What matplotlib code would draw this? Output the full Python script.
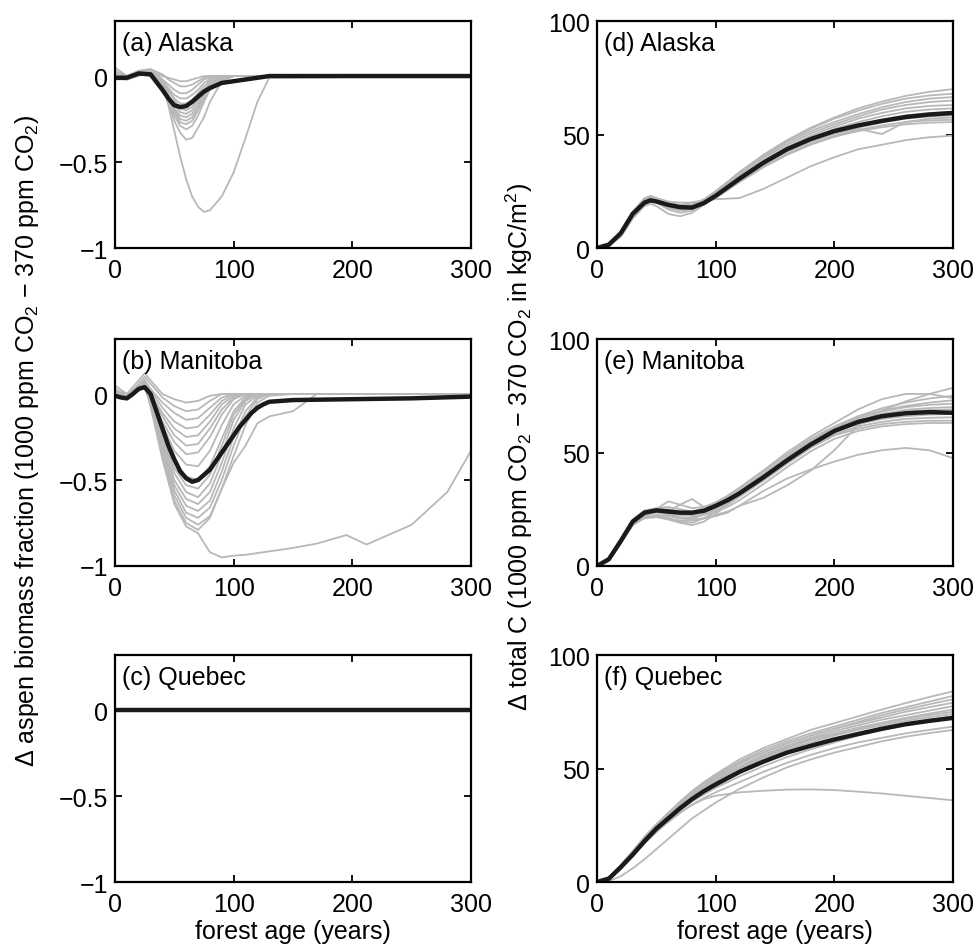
import matplotlib
matplotlib.use('Agg')
import matplotlib.pyplot as plt

plt.rcParams['font.family'] = ['Liberation Sans', 'DejaVu Sans']
plt.rcParams['mathtext.fontset'] = 'custom'
plt.rcParams['mathtext.rm'] = 'Liberation Sans'
plt.rcParams['mathtext.it'] = 'Liberation Sans:italic'

# ---- (a) Alaska, aspen biomass fraction ----
xa = [0, 10, 20, 30, 40, 45, 50, 55, 60, 65, 70, 75, 80, 90, 100, 110, 120, 130, 300]
mean_a = [-0.01, -0.01, 0.015, 0.01, -0.08, -0.13, -0.17, -0.18, -0.175, -0.15, -0.12, -0.09, -0.07, -0.04, -0.03, -0.02, -0.01, 0, 0]
gray_a = [
    [0, -0.02, 0.02, 0.03, 0.0, -0.01, -0.02, -0.03, -0.03, -0.02, -0.01, 0, 0, 0, 0, 0, 0, 0, 0],
    [0.03, 0.0, 0.03, 0.04, 0.01, -0.02, -0.04, -0.06, -0.06, -0.05, -0.03, -0.01, 0, 0, 0, 0, 0, 0, 0],
    [0.05, 0.0, 0.02, 0.02, -0.02, -0.05, -0.08, -0.1, -0.1, -0.08, -0.05, -0.02, -0.01, 0, 0, 0, 0, 0, 0],
    [0.0, -0.01, 0.01, 0.03, -0.03, -0.07, -0.11, -0.13, -0.13, -0.11, -0.08, -0.04, -0.02, 0, 0, 0, 0, 0, 0],
    [-0.02, -0.02, 0.0, 0.02, -0.04, -0.09, -0.13, -0.16, -0.16, -0.14, -0.1, -0.06, -0.03, -0.01, 0, 0, 0, 0, 0],
    [0.0, 0.0, 0.03, 0.04, -0.02, -0.08, -0.14, -0.19, -0.2, -0.18, -0.13, -0.08, -0.04, -0.01, 0, 0, 0, 0, 0],
    [0.02, -0.01, 0.02, 0.01, -0.05, -0.11, -0.17, -0.21, -0.22, -0.2, -0.15, -0.09, -0.05, -0.01, 0, 0, 0, 0, 0],
    [-0.01, -0.02, 0.01, 0.0, -0.06, -0.12, -0.19, -0.23, -0.24, -0.22, -0.17, -0.11, -0.06, -0.02, 0, 0, 0, 0, 0],
    [0.0, -0.01, 0.02, 0.02, -0.05, -0.13, -0.2, -0.25, -0.26, -0.24, -0.19, -0.12, -0.07, -0.02, 0, 0, 0, 0, 0],
    [0.01, 0.0, 0.03, 0.03, -0.04, -0.13, -0.21, -0.27, -0.28, -0.26, -0.2, -0.13, -0.07, -0.02, 0, 0, 0, 0, 0],
    [0.0, -0.02, 0.01, 0.01, -0.07, -0.15, -0.23, -0.29, -0.31, -0.29, -0.23, -0.15, -0.08, -0.02, 0, 0, 0, 0, 0],
    [-0.01, -0.01, 0.02, 0.02, -0.06, -0.16, -0.26, -0.33, -0.37, -0.36, -0.3, -0.24, -0.15, -0.03, 0, 0, 0, 0, 0],
    [0.0, -0.01, 0.01, 0.02, -0.04, -0.17, -0.32, -0.47, -0.6, -0.7, -0.76, -0.79, -0.78, -0.7, -0.56, -0.36, -0.15, -0.01, 0],
]

# ---- (b) Manitoba, aspen biomass fraction ----
xb = [0, 10, 20, 25, 30, 40, 50, 60, 70, 80, 90, 100, 110, 120, 130, 150, 170, 195, 212, 250, 280, 300]
xb_mean = [0, 5, 10, 15, 20, 25, 30, 35, 40, 45, 50, 55, 60, 65, 70, 75, 80, 85, 90, 95, 100, 105, 110, 115, 120, 125, 130, 150, 200, 250, 300]
mean_b = [-0.01, -0.02, -0.025, 0.0, 0.03, 0.04, 0.0, -0.1, -0.2, -0.3, -0.38, -0.45, -0.49, -0.51, -0.5, -0.47, -0.44, -0.39, -0.34, -0.29, -0.24, -0.19, -0.15, -0.11, -0.08, -0.06, -0.045, -0.035, -0.03, -0.025, -0.015]
gray_b = [
    [0.02, 0.0, 0.08, 0.12, 0.08, 0.0, -0.03, -0.05, -0.04, -0.01, 0, 0, 0, 0, 0, 0, 0, 0, 0, 0, 0, 0],
    [0.0, -0.02, 0.06, 0.1, 0.06, -0.02, -0.07, -0.1, -0.09, -0.04, 0, 0, 0, 0, 0, 0, 0, 0, 0, 0, 0, 0],
    [0.05, 0.0, 0.05, 0.08, 0.03, -0.05, -0.11, -0.15, -0.14, -0.08, -0.02, 0, 0, 0, 0, 0, 0, 0, 0, 0, 0, 0],
    [0.0, -0.02, 0.04, 0.08, 0.02, -0.08, -0.16, -0.2, -0.19, -0.12, -0.04, 0, 0, 0, 0, 0, 0, 0, 0, 0, 0, 0],
    [0.03, -0.01, 0.05, 0.07, 0.0, -0.11, -0.2, -0.25, -0.24, -0.16, -0.06, -0.01, 0, 0, 0, 0, 0, 0, 0, 0, 0, 0],
    [0.0, -0.03, 0.04, 0.06, 0.0, -0.13, -0.24, -0.3, -0.29, -0.2, -0.09, -0.02, 0, 0, 0, 0, 0, 0, 0, 0, 0, 0],
    [0.02, -0.02, 0.03, 0.05, -0.02, -0.16, -0.28, -0.35, -0.34, -0.25, -0.12, -0.03, 0, 0, 0, 0, 0, 0, 0, 0, 0, 0],
    [0.0, -0.02, 0.05, 0.07, -0.01, -0.18, -0.33, -0.41, -0.42, -0.33, -0.18, -0.06, -0.01, 0, 0, 0, 0, 0, 0, 0, 0, 0],
    [0.01, -0.03, 0.04, 0.06, -0.03, -0.22, -0.39, -0.48, -0.5, -0.42, -0.26, -0.1, -0.02, 0, 0, 0, 0, 0, 0, 0, 0, 0],
    [-0.01, -0.02, 0.03, 0.05, -0.04, -0.25, -0.43, -0.53, -0.55, -0.47, -0.3, -0.12, -0.03, 0, 0, 0, 0, 0, 0, 0, 0, 0],
    [0.0, -0.03, 0.05, 0.08, -0.02, -0.26, -0.46, -0.57, -0.6, -0.52, -0.35, -0.15, -0.04, 0, 0, 0, 0, 0, 0, 0, 0, 0],
    [0.02, -0.02, 0.04, 0.06, -0.04, -0.28, -0.5, -0.61, -0.64, -0.57, -0.4, -0.2, -0.06, -0.01, 0, 0, 0, 0, 0, 0, 0, 0],
    [0.0, -0.03, 0.02, 0.04, -0.06, -0.3, -0.53, -0.65, -0.68, -0.62, -0.45, -0.25, -0.1, -0.02, 0, 0, 0, 0, 0, 0, 0, 0],
    [0.01, -0.02, 0.03, 0.05, -0.05, -0.32, -0.56, -0.69, -0.72, -0.66, -0.5, -0.3, -0.13, -0.03, 0, 0, 0, 0, 0, 0, 0, 0],
    [0.0, -0.03, 0.04, 0.06, -0.06, -0.34, -0.59, -0.72, -0.76, -0.71, -0.55, -0.36, -0.18, -0.05, -0.01, 0, 0, 0, 0, 0, 0, 0],
    [0.0, -0.02, 0.03, 0.05, -0.07, -0.36, -0.62, -0.75, -0.79, -0.72, -0.55, -0.4, -0.3, -0.17, -0.13, -0.1, 0, 0, 0, 0, 0, 0],
    [0.0, -0.02, 0.03, 0.05, -0.07, -0.38, -0.64, -0.77, -0.81, -0.92, -0.95, -0.94, -0.935, -0.925, -0.915, -0.895, -0.87, -0.82, -0.875, -0.76, -0.57, -0.33],
]

# ---- (c) Quebec, aspen biomass fraction ----
xc = [0, 300]
mean_c = [0, 0]

# ---- (d) Alaska, total C ----
xd = [0, 10, 20, 30, 40, 45, 50, 60, 70, 80, 90, 100, 120, 140, 160, 180, 200, 220, 240, 260, 280, 300]
mean_d = [0, 1.5, 6.5, 15, 20, 21, 20.5, 19, 18, 17.8, 19.8, 23, 30.5, 37.5, 43.5, 48, 51.5, 54, 56, 57.7, 58.8, 59.5]
gray_d = [
    [0, 1.2, 6, 15, 21, 22, 21.5, 19.5, 18.5, 18.5, 21, 25, 33.5, 41, 47.5, 53, 57.5, 61.5, 64.5, 67, 68.8, 70],
    [0, 1.5, 7, 16, 22, 23, 22, 20, 19, 19, 21.5, 25, 33, 40.5, 47, 52.5, 57, 60.5, 63.5, 65.8, 67.2, 68],
    [0, 1, 5.5, 14, 20, 21, 20.5, 18, 17, 17.5, 20.5, 24.5, 32.5, 40, 46.5, 51.5, 55.5, 59, 62, 64.3, 65.8, 66.5],
    [0, 1.3, 6.5, 15, 21, 22, 21, 18.5, 17, 17.5, 20, 24, 32, 39.5, 45.5, 50.5, 54.5, 58, 61, 63, 64.3, 65],
    [0, 1.1, 5, 13, 19, 20.5, 20, 17, 15.5, 16.5, 20, 24, 31.5, 38.5, 44.5, 49.5, 53.5, 57, 59.5, 61.5, 62.6, 63],
    [0, 1.4, 6.5, 15.5, 21.5, 22.5, 22, 20.5, 20, 20, 21, 23.5, 31, 38, 44, 48.5, 52.5, 55.5, 58, 60, 61, 61.5],
    [0, 1, 5, 13, 18.5, 19.5, 18.5, 15, 14, 15.5, 19, 23, 30.5, 37.5, 43, 47.5, 51, 54, 56.5, 58.5, 59.5, 60],
    [0, 1.3, 6, 14.5, 20.5, 21.5, 21, 19, 18, 18, 20, 23, 30, 37, 42.5, 47, 50.5, 53, 55.3, 57, 58, 58.5],
    [0, 1.2, 6, 14.5, 20.5, 21.5, 21, 19, 18.5, 18.5, 20.5, 23.5, 30.5, 37, 42.5, 47, 50.5, 52.5, 50.2, 55.5, 57, 57.5],
    [0, 1, 5.5, 14, 20, 21, 20.5, 17.5, 16.5, 17, 19.5, 22.5, 29.5, 36, 41.5, 46, 49.5, 52, 54, 55.5, 56.2, 56.5],
    [0, 1.2, 6, 14.5, 20, 21, 20.5, 18, 17, 17.5, 19.5, 22, 29, 35.5, 41, 45.5, 49, 51.5, 53.2, 54.5, 55.2, 55.5],
    [0, 1.2, 6, 14, 20, 21, 20.5, 19, 19, 20, 21, 21.5, 22, 26, 31, 36, 40, 43.5, 45.5, 47.5, 48.8, 49.5],
]

# ---- (e) Manitoba, total C ----
xe = [0, 10, 20, 30, 40, 50, 60, 70, 80, 90, 100, 110, 120, 140, 160, 180, 200, 220, 240, 260, 280, 300]
mean_e = [0, 3, 11, 19.5, 23.5, 24.5, 24, 23.5, 23.5, 24.3, 26.5, 29, 32, 39, 46.5, 53.5, 59.5, 63.5, 66, 67.3, 67.8, 67.5]
gray_e = [
    [0, 2.5, 10, 18, 22, 22.5, 22, 21, 20.5, 21, 22.5, 24, 26.5, 30, 35.5, 42, 51, 62, 68.5, 72.5, 75.8, 78.5],
    [0, 3.5, 12, 20.5, 24.5, 25.5, 26, 25, 24, 25.5, 28, 31, 34.5, 42, 50, 57, 63, 69, 73.5, 75.8, 75.8, 74],
    [0, 3, 11.5, 19.5, 23.5, 25, 28.5, 27, 25.5, 26, 28, 30.5, 34, 41.5, 49, 56, 61.5, 66, 69.5, 72, 73.8, 75],
    [0, 2.5, 10.5, 19, 23, 24, 24, 27, 29.5, 26, 27, 29.5, 32.5, 40, 48, 55, 61, 65.5, 68.5, 70.5, 72, 73],
    [0, 3, 11, 19.5, 23.5, 24.5, 24, 23, 22.5, 24, 26.5, 29.5, 33, 40.5, 48, 55, 61, 65, 68, 70, 71, 71.5],
    [0, 3.2, 11.5, 20, 24, 25, 25, 24, 23, 24, 26, 28.5, 31.5, 38.5, 46, 53, 59.5, 64, 67, 68.8, 69.6, 70],
    [0, 2.8, 10.5, 18.5, 22.5, 23.5, 22.5, 21, 21, 23, 25.5, 28.5, 32, 39.5, 47, 54, 60, 64, 66.5, 68, 68.7, 69],
    [0, 3, 11, 19, 23, 24, 23, 21.5, 21, 22.5, 25, 28, 31.5, 38.5, 46, 53, 59, 62.5, 64.8, 66, 66.7, 67],
    [0, 2.5, 10, 18, 21.5, 22, 21, 19.5, 19, 21, 24, 27.5, 31, 38, 45.5, 52.5, 58, 61.5, 63.5, 64.8, 65.3, 65.5],
    [0, 2.7, 10.5, 18, 21, 21.5, 20.5, 19, 18, 19.5, 23, 27, 30.5, 37.5, 45, 52, 57.5, 60.5, 62.5, 63.5, 64, 64],
    [0, 3, 11, 19, 23, 24, 23.5, 22.5, 22, 22.5, 24, 26, 29, 36, 43.5, 50.5, 56, 59.5, 61.5, 62.5, 63, 63],
    [0, 2.5, 10, 18, 21.5, 22, 21, 20, 20, 21, 22, 23.5, 26.5, 33, 38.5, 42.5, 46, 49, 51, 52, 51, 47.5],
]

# ---- (f) Quebec, total C ----
xf = [0, 10, 20, 30, 40, 50, 60, 70, 80, 90, 100, 120, 140, 160, 180, 200, 220, 240, 260, 280, 300]
mean_f = [0, 1.5, 6.5, 12, 18, 23.5, 28, 32.5, 36.5, 40, 43, 48.5, 53, 57, 60, 62.8, 65.2, 67.5, 69.5, 71, 72.3]
gray_f = [
    [0, 2, 7.5, 13.5, 20, 25.5, 30.5, 35.5, 40, 44, 47.5, 54, 59, 63, 67, 70, 73, 76, 78.8, 81.5, 84],
    [0, 1.8, 7, 13, 19, 25, 30, 35, 39.5, 43.5, 47, 53, 58, 62, 65.5, 68.5, 71.5, 74.5, 77, 79.5, 82],
    [0, 1.5, 6.5, 12.5, 18.5, 24, 29, 34, 38.5, 42.5, 46, 52, 57, 61, 64.5, 67.5, 70.5, 73.5, 76, 78.3, 80.5],
    [0, 2, 7.5, 13.5, 19.5, 25, 30, 34.5, 39, 43, 46.5, 52.5, 57, 61, 64.5, 67.5, 70, 72.5, 75, 77, 79],
    [0, 1.5, 6.5, 12, 18, 23.5, 28.5, 33.5, 38, 42, 45.5, 51, 56, 60, 63.5, 66.5, 69, 71.5, 73.5, 75.5, 77.5],
    [0, 1.7, 7, 13, 19, 24.5, 29.5, 34, 38.5, 42, 45, 50.5, 55.5, 59.5, 63, 65.5, 68, 70.2, 72.3, 74.2, 76],
    [0, 1.5, 6.5, 12.5, 18.5, 24, 29, 33.5, 37.5, 41, 44.5, 50, 55, 59, 62.5, 65, 67.5, 69.8, 71.8, 73.5, 75],
    [0, 1.2, 6, 11.5, 17.5, 23, 28, 32.5, 36.5, 40, 43.5, 49.5, 54.5, 58.5, 61.5, 64.5, 67, 69, 71, 72.6, 74],
    [0, 1.5, 6.5, 12.5, 18, 23, 27.5, 31.5, 35.5, 38.5, 41.5, 46.5, 51, 55, 58.5, 61.5, 64.5, 67, 69.5, 71.3, 73],
    [0, 1.3, 6, 11.5, 17, 22, 26.5, 30.5, 34, 37, 39.5, 44, 48.5, 52.5, 56, 59, 61.5, 63.5, 65.5, 67, 68.5],
    [0, 0.5, 2.5, 6, 10, 14.5, 19, 23.5, 28, 31.5, 35, 41, 46, 50.5, 54, 57, 59.5, 62, 64, 65.6, 67],
    [0, 1.5, 6, 11.5, 17, 22, 26.5, 30.5, 34, 36.5, 38, 39.5, 40.2, 40.7, 40.8, 40.5, 39.8, 39, 38, 37, 36],
]

GRAY = '#b8b8b8'
BLACK = '#1a1a1a'
FS = 18


def setup(ax, ylim, yticks, ylabels, label):
    ax.set_xlim(0, 300)
    ax.set_ylim(*ylim)
    ax.set_xticks([0, 100, 200, 300])
    ax.set_yticks(yticks)
    ax.set_yticklabels(ylabels)
    ax.tick_params(direction='in', top=True, right=True, length=5, width=1.3, labelsize=FS)
    ax.tick_params(axis='x', pad=7)
    ax.tick_params(axis='y', pad=5)
    for s in ax.spines.values():
        s.set_linewidth(1.6)
    ax.text(0.02, 0.905, label, transform=ax.transAxes, fontsize=FS, va='center', ha='left')


def draw(ax, x, grays, xm, mean):
    for g in grays:
        ax.plot(x, g, color=GRAY, lw=1.3, solid_joinstyle='round')
    ax.plot(xm, mean, color=BLACK, lw=3.2, solid_joinstyle='round', solid_capstyle='butt')


fig = plt.figure(figsize=(9.76, 9.45), dpi=100)
lefts = [0.1178, 0.6117]
bottoms = [0.7365, 0.40, 0.0656]
w, h = 0.3648, 0.2402

left_lim = (-1, 0.32)
left_ticks = [-1, -0.5, 0]
left_lbls = ['\u22121', '\u22120.5', '0']
right_lim = (0, 100)
right_ticks = [0, 50, 100]
right_lbls = ['0', '50', '100']

axa = fig.add_axes([lefts[0], bottoms[0], w, h])
draw(axa, xa, gray_a, xa, mean_a)
setup(axa, left_lim, left_ticks, left_lbls, '(a) Alaska')

axb = fig.add_axes([lefts[0], bottoms[1], w, h])
draw(axb, xb, gray_b, xb_mean, mean_b)
setup(axb, left_lim, left_ticks, left_lbls, '(b) Manitoba')

axc = fig.add_axes([lefts[0], bottoms[2], w, h])
draw(axc, xc, [], xc, mean_c)
setup(axc, left_lim, left_ticks, left_lbls, '(c) Quebec')
axc.set_xlabel('forest age (years)', fontsize=FS, labelpad=2)

axd = fig.add_axes([lefts[1], bottoms[0], w, h])
draw(axd, xd, gray_d, xd, mean_d)
setup(axd, right_lim, right_ticks, right_lbls, '(d) Alaska')

axe = fig.add_axes([lefts[1], bottoms[1], w, h])
draw(axe, xe, gray_e, xe, mean_e)
setup(axe, right_lim, right_ticks, right_lbls, '(e) Manitoba')

axf = fig.add_axes([lefts[1], bottoms[2], w, h])
draw(axf, xf, gray_f, xf, mean_f)
setup(axf, right_lim, right_ticks, right_lbls, '(f) Quebec')
axf.set_xlabel('forest age (years)', fontsize=FS, labelpad=2)

fig.text(0.028, 0.533, '\u0394 aspen biomass fraction (1000 ppm CO$_2$ \u2212 370 ppm CO$_2$)',
         rotation=90, va='center', ha='center', fontsize=18)
fig.text(0.532, 0.527, '\u0394 total C (1000 ppm CO$_2$ \u2212 370 CO$_2$ in kgC/m$^2$)',
         rotation=90, va='center', ha='center', fontsize=18)

fig.savefig('out.png', dpi=100)
